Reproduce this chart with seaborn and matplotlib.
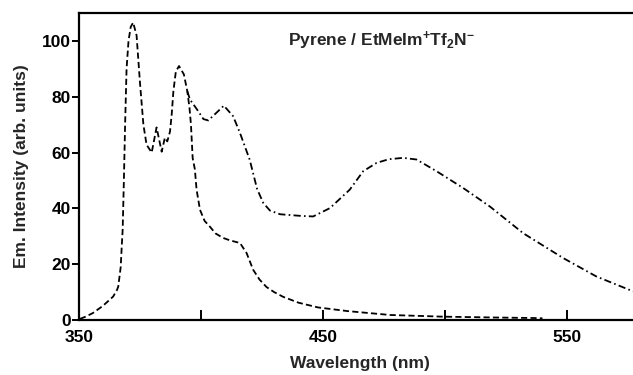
import matplotlib
matplotlib.use("Agg")
import matplotlib.pyplot as plt
import seaborn as sns
import pandas as pd

# Monomer-dominated emission (dashed trace)
dashed_wl = [350.4, 353, 355.7, 359.7, 362.5, 364.0, 365.6, 366.1, 367.1, 367.5, 367.9,
             368.4, 368.9, 369.5, 370.3, 371.2, 372.2, 373.6, 375.0, 376.4, 377.7,
             379.8, 381.8, 383.9, 385.2, 386.2, 387.3, 388.0, 388.7, 389.7, 391.0,
             393.0, 394.4, 395.3, 395.9, 396.6, 397.5, 398.2, 399.6, 401.5, 403.7,
             406.0, 409.1, 412.0, 416.0, 418.7, 421.4, 424.0, 426.9, 430.0, 433.7,
             440.0, 448.0, 460.0, 477.5, 499.0, 520.0, 537.5, 540.0]
dashed_int = [0.4, 1.3, 2.5, 5.0, 7.2, 8.4, 10.8, 12.0, 19.0, 26.0, 32.3,
              50.0, 70.0, 90.0, 100.0, 105.0, 106.6, 102.0, 85.0, 70.0, 62.8,
              60.0, 69.0, 60.3, 65.3, 64.0, 67.5, 73.6, 82.0, 89.0, 91.0,
              88.0, 82.0, 76.0, 70.0, 58.0, 54.0, 46.7, 39.5, 35.5, 33.4,
              31.0, 29.4, 28.5, 27.6, 24.0, 18.0, 14.5, 11.8, 10.0, 8.3,
              6.2, 4.5, 3.2, 1.8, 1.2, 0.9, 0.7, 0.6]

# Emission with the broad excimer band (dash-dot trace)
dashdot_wl = [394.4, 395.5, 398.9, 401.0, 403.0, 406.4, 409.4, 413.2, 416.0, 420.0,
              423.0, 425.5, 428.3, 432.4, 435.1, 441.0, 446.0, 452.9, 461.0, 466.5,
              472.0, 477.0, 482.9, 488.4, 496.6, 507.5, 518.4, 532.1, 548.5, 562.1,
              576.5, 580.0]
dashdot_int = [82.0, 79.0, 74.8, 72.0, 71.5, 74.3, 76.8, 73.0, 67.0, 57.4,
               47.0, 42.0, 39.2, 37.9, 37.7, 37.3, 37.1, 40.1, 46.7, 53.3,
               56.3, 57.6, 58.1, 57.5, 53.3, 47.3, 40.7, 31.1, 22.2, 15.6,
               10.5, 9.5]

x_ticks = [350, 400, 450, 500, 550]
x_tick_labels = ["350", "", "450", "", "550"]
y_ticks = [0, 20, 40, 60, 80, 100]

sns.set_style("ticks")
plt.rcParams["font.family"] = ["Liberation Sans", "DejaVu Sans"]
plt.rcParams["font.weight"] = "bold"
plt.rcParams["mathtext.fontset"] = "custom"
plt.rcParams["mathtext.rm"] = "Liberation Sans:bold"
plt.rcParams["mathtext.bf"] = "Liberation Sans:bold"
plt.rcParams["mathtext.it"] = "Liberation Sans:bold"
plt.rcParams["mathtext.default"] = "bf"

fig = plt.figure(figsize=(6.33, 3.75), dpi=100)
ax = fig.add_axes([79 / 633, 55 / 375, 561 / 633, 307 / 375])

df_dash = pd.DataFrame({"wl": dashed_wl, "em": dashed_int})
df_dd = pd.DataFrame({"wl": dashdot_wl, "em": dashdot_int})

sns.lineplot(data=df_dash, x="wl", y="em", ax=ax, color="black", lw=1.3,
             sort=False, estimator=None, linestyle=(0, (3.4, 1.8)))
sns.lineplot(data=df_dd, x="wl", y="em", ax=ax, color="black", lw=1.3,
             sort=False, estimator=None, linestyle=(0, (4.0, 1.8, 0.9, 1.8)))

ax.set_xlim(350, 580)
ax.set_ylim(0, 110)

ax.set_xticks(x_ticks)
ax.set_xticklabels(x_tick_labels)
ax.set_yticks(y_ticks)

for side in ("left", "bottom", "top"):
    ax.spines[side].set_linewidth(1.6)
    ax.spines[side].set_color("black")
ax.spines["right"].set_visible(False)

ax.tick_params(axis="x", direction="in", length=7, width=1.4, pad=7,
               labelsize=12.5, colors="black")
ax.tick_params(axis="y", direction="out", length=5, width=1.4, pad=1,
               labelsize=12.5, colors="black")
for lab in ax.get_xticklabels() + ax.get_yticklabels():
    lab.set_fontweight("bold")

ax.set_xlabel("Wavelength (nm)", fontsize=12.5, fontweight="bold", labelpad=8)
ax.set_ylabel("Em. Intensity (arb. units)", fontsize=12.5, fontweight="bold",
              labelpad=9)

ax.text(435.6, 98, r"Pyrene / EtMeIm$^{+}$Tf$_{2}$N$^{-}$", fontsize=12.5,
        fontweight="bold", ha="left", va="baseline")

fig.savefig("out.png", dpi=100)
